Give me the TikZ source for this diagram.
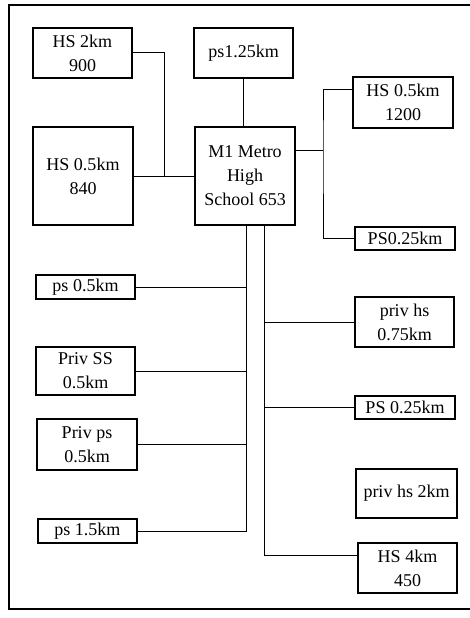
\documentclass[tikz,border=0pt]{standalone}
\usepackage{fontspec}
\setmainfont{Liberation Serif}
\begin{document}
\begin{tikzpicture}[x=1pt,y=-1pt,
  box/.style={draw, line width=1.4pt, inner sep=0pt, align=center,
    font=\fontsize{18}{24}\selectfont},
  link/.style={line width=1pt}]
\useasboundingbox (0,0) rectangle (470,618);
% frame
\draw[line width=1.4pt] (470,5) -- (9,5) -- (9,609) -- (470,609);
% boxes
\node[box, minimum width=99pt, minimum height=50pt] (hs2) at (82.5,53) {HS 2km\\900};
\node[box, minimum width=99pt, minimum height=50pt] (ps125) at (243.5,53) {ps1.25km};
\node[box, minimum width=100pt, minimum height=98pt] (hs05a) at (83,176) {HS 0.5km\\840};
\node[box, minimum width=100pt, minimum height=98pt] (m1) at (245,176) {M1 Metro\\High\\School 653};
\node[box, minimum width=100pt, minimum height=51pt] (hs05b) at (403,102.5) {HS 0.5km\\1200};
\node[box, minimum width=100pt, minimum height=23pt] (ps025a) at (405,238.5) {PS0.25km};
\node[box, minimum width=99pt, minimum height=24pt] (ps05) at (85.5,287) {ps 0.5km};
\node[box, minimum width=99pt, minimum height=48pt] (privss) at (85.5,371) {Priv SS\\0.5km};
\node[box, minimum width=99pt, minimum height=50pt] (privhs075) at (404.5,322) {priv hs\\0.75km};
\node[box, minimum width=100pt, minimum height=23pt] (ps025b) at (405,407.5) {PS 0.25km};
\node[box, minimum width=100pt, minimum height=51pt] (privps) at (87,444.5) {Priv ps\\0.5km};
\node[box, minimum width=99pt, minimum height=24pt] (ps15) at (87.5,531) {ps 1.5km};
\node[box, minimum width=101pt, minimum height=49pt] (privhs2) at (406.5,493.5) {priv hs 2km};
\node[box, minimum width=99pt, minimum height=50pt] (hs4) at (407.5,568) {HS 4km\\450};
% bus coordinates
\coordinate (j1) at (164,176);
\coordinate (r1) at (323,150);
\coordinate (lb) at (246,531);
\coordinate (rb) at (264,555);
% connectors
\draw[link] (hs05a.east) -- (m1.west);
\draw[link] (hs2.east) -| (j1);
\draw[link] (ps125.south) -- (ps125.south |- m1.north);
\draw[link] (m1.east |- r1) -- (r1);
\draw[link] ([yshift=13.5pt]hs05b.west) -| (r1) |- (ps025a.west);
\draw[link] (m1.south -| lb) -- (lb) -- (ps15.east);
\draw[link] (ps05.east) -- (ps05.east -| lb);
\draw[link] (privss.east) -- (privss.east -| lb);
\draw[link] (privps.east) -- (privps.east -| lb);
\draw[link] (m1.south -| rb) -- (rb) -- (rb -| hs4.west);
\draw[link] (privhs075.west) -- (privhs075.west -| rb);
\draw[link] (ps025b.west) -- (ps025b.west -| rb);
\end{tikzpicture}
\end{document}
